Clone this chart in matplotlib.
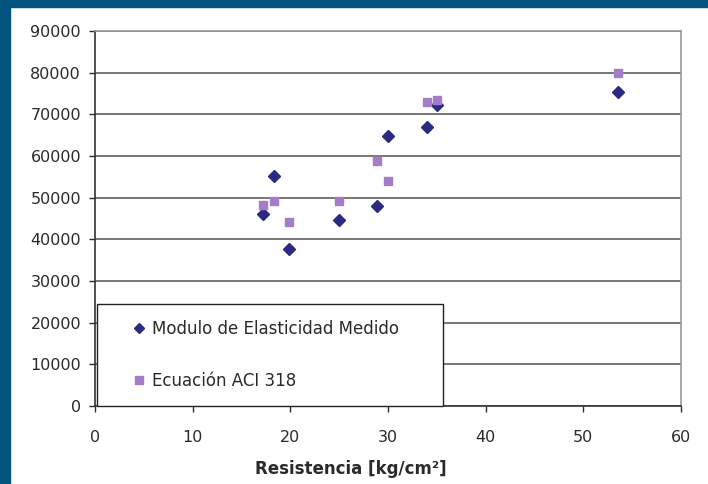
import matplotlib
matplotlib.use("Agg")
import matplotlib.pyplot as plt
from matplotlib.patches import Rectangle

plt.rcParams['font.family'] = ['DejaVu Sans']

resistencia = [17.2, 18.3, 19.9, 25.0, 28.9, 30.0, 34.0, 35.0, 53.6]
modulo_medido = [46100, 55200, 37800, 44700, 47900, 64700, 67000, 72300, 75300]
ecuacion_aci = [48200, 49200, 44200, 49300, 58700, 54100, 73000, 73500, 79900]
series_names = ["Modulo de Elasticidad Medido", "Ecuación ACI 318"]
xticks = [0, 10, 20, 30, 40, 50, 60]
yticks = [0, 10000, 20000, 30000, 40000, 50000, 60000, 70000, 80000, 90000]

fig = plt.figure(figsize=(7.08, 4.84), dpi=100)
fig.patch.set_facecolor('white')
border = '#03547F'
fig.patches.append(Rectangle((0, 0), 10/708, 1, transform=fig.transFigure, color=border, zorder=-1))
fig.patches.append(Rectangle((0, 1-7/484), 1, 7/484, transform=fig.transFigure, color=border, zorder=-1))

ax = fig.add_axes([95/708, 1-406/484, 586/708, 375/484])
ax.set_xlim(0, 60)
ax.set_ylim(0, 90000)
ax.set_xticks(xticks)
ax.set_yticks(yticks)
ax.set_xticklabels([str(v) for v in xticks])
ax.set_yticklabels([str(v) for v in yticks])
ax.tick_params(axis='both', labelsize=11.5, colors='#2a2a2a', direction='out', length=4, width=1)
ax.tick_params(axis='x', pad=13)
ax.tick_params(axis='y', pad=6)
ax.yaxis.grid(True, color='#777777', linewidth=1.4)
ax.set_axisbelow(True)
for s in ['left', 'bottom']:
    ax.spines[s].set_color('#333333')
    ax.spines[s].set_linewidth(1.2)
for s in ['top', 'right']:
    ax.spines[s].set_color('#999999')
    ax.spines[s].set_linewidth(1.2)

ax.plot(resistencia, modulo_medido, linestyle='none', marker='D', markersize=6,
        color='#2A2A80', label=series_names[0], zorder=3)
ax.plot(resistencia, ecuacion_aci, linestyle='none', marker='s', markersize=6,
        color='#A57CC8', label=series_names[1], zorder=3)

leg = ax.legend(loc='center left', bbox_to_anchor=(0.003, 0, 0.591, 0.272), mode='expand',
                fancybox=False, edgecolor='#222222', framealpha=1, fontsize=12,
                labelspacing=2.08, handlelength=3.12, handletextpad=-0.78, borderpad=0.95,
                borderaxespad=0, numpoints=1, markerscale=0.85)
leg.get_frame().set_linewidth(1.0)
leg.set_zorder(5)
for t in leg.get_texts():
    t.set_color('#2a2a2a')

ax.set_xlabel("Resistencia [kg/cm²]", fontsize=12, fontweight='bold', color='#2a2a2a')
ax.xaxis.set_label_coords((351-95)/586, (406-460)/375)

fig.savefig('out.png', dpi=100, facecolor=fig.get_facecolor())
